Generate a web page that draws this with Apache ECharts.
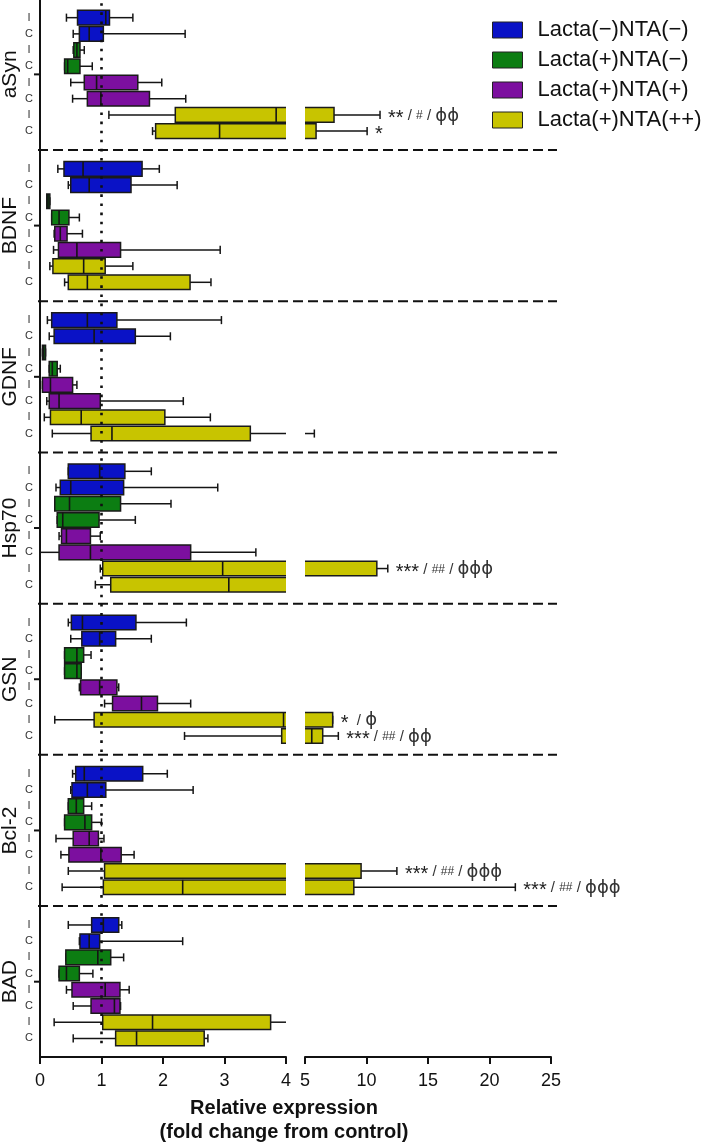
<!DOCTYPE html>
<html>
<head>
<meta charset="utf-8">
<script src="https://cdn.jsdelivr.net/npm/echarts@6/dist/echarts.min.js"></script>
<style>
html,body{margin:0;padding:0;background:#fff;}
#chart{width:709px;height:1143px;}
</style>
</head>
<body>
<div id="chart"></div>
<script>
// ---------- data ----------
const genes = ['aSyn', 'BDNF', 'GDNF', 'Hsp70', 'GSN', 'Bcl-2', 'BAD'];
const tissues = ['I', 'C'];
const groupNames = ['Lacta(\u2212)NTA(\u2212)', 'Lacta(+)NTA(\u2212)', 'Lacta(+)NTA(+)', 'Lacta(+)NTA(++)'];
const groupColors = ['#0a12c6', '#0c7d12', '#7c0f9f', '#c8c400'];

// each row: [min, Q1, median, Q3, max]; order: aSyn I, aSyn C, BDNF I, BDNF C, ... BAD I, BAD C
const blueBoxes = [
  [0.43, 0.61, 1.07, 1.13, 1.51], [0.54, 0.64, 0.80, 1.03, 2.36],
  [0.29, 0.39, 0.70, 1.66, 1.94], [0.46, 0.50, 0.80, 1.48, 2.23],
  [0.12, 0.19, 0.77, 1.25, 2.95], [0.15, 0.23, 0.88, 1.55, 2.12],
  [0.46, 0.46, 0.97, 1.38, 1.81], [0.26, 0.33, 0.50, 1.36, 2.89],
  [0.46, 0.51, 0.69, 1.56, 2.38], [0.50, 0.68, 0.97, 1.23, 1.81],
  [0.53, 0.58, 0.72, 1.67, 2.07], [0.50, 0.52, 0.77, 1.07, 2.49],
  [0.46, 0.84, 1.03, 1.28, 1.33], [0.64, 0.65, 0.80, 0.97, 2.32]
];
const greenBoxes = [
  [0.54, 0.55, 0.60, 0.65, 0.72], [0.40, 0.40, 0.45, 0.65, 0.85],
  [0.11, 0.11, 0.13, 0.16, 0.16], [0.19, 0.19, 0.31, 0.47, 0.64],
  [0.04, 0.04, 0.06, 0.09, 0.09], [0.15, 0.15, 0.20, 0.28, 0.33],
  [0.24, 0.24, 0.48, 1.31, 2.13], [0.28, 0.28, 0.37, 0.96, 1.55],
  [0.40, 0.40, 0.60, 0.71, 0.83], [0.40, 0.40, 0.60, 0.67, 0.67],
  [0.46, 0.46, 0.59, 0.71, 0.84], [0.40, 0.40, 0.73, 0.84, 1.00],
  [0.42, 0.42, 0.94, 1.15, 1.36], [0.31, 0.31, 0.43, 0.64, 0.86]
];
const purpleBoxes = [
  [0.50, 0.72, 0.92, 1.59, 1.98], [0.53, 0.77, 0.99, 1.78, 2.37],
  [0.23, 0.24, 0.33, 0.44, 0.69], [0.22, 0.30, 0.60, 1.31, 2.93],
  [0.04, 0.04, 0.17, 0.53, 0.60], [0.11, 0.15, 0.31, 0.98, 2.33],
  [0.31, 0.35, 0.43, 0.82, 0.98], [0.00, 0.31, 0.82, 2.45, 3.51],
  [0.64, 0.66, 0.97, 1.25, 1.28], [1.05, 1.18, 1.65, 1.91, 2.45],
  [0.26, 0.54, 0.80, 0.95, 1.04], [0.34, 0.47, 0.99, 1.32, 1.53],
  [0.43, 0.52, 1.06, 1.30, 1.45], [0.54, 0.83, 1.21, 1.30, 1.31]
];
const yellowBoxes = [
  [1.12, 2.20, 3.84, 7.36, 11.10], [1.83, 1.88, 2.92, 5.90, 10.05],
  [0.16, 0.21, 0.71, 1.06, 1.51], [0.40, 0.46, 0.77, 2.44, 2.78],
  [0.07, 0.17, 0.67, 2.03, 2.77], [0.20, 0.83, 1.17, 3.42, 5.76],
  [0.98, 1.02, 2.97, 10.84, 11.73], [0.90, 1.15, 3.07, 4.40, 4.40],
  [0.24, 0.88, 3.96, 7.25, 7.25], [2.35, 3.93, 5.55, 6.44, 7.71],
  [0.46, 1.05, 4.50, 9.56, 12.47], [0.36, 1.03, 2.32, 8.97, 22.10],
  [0.23, 1.02, 1.83, 3.75, 4.03], [0.54, 1.23, 1.57, 2.67, 2.73]
];
const allBoxes = [blueBoxes, greenBoxes, purpleBoxes, yellowBoxes];

// significance marks (all on Lacta(+)NTA(++) rows)
const annoGene = [0, 0, 3, 4, 4, 5, 5];
const annoTissue = [0, 1, 0, 0, 1, 0, 1];
const annoStars = ['**', '*', '***', '*', '***', '***', '***'];
const annoHash = ['#', '', '##', '', '##', '##', '##'];
const annoPhi = ['\u03d5\u03d5', '', '\u03d5\u03d5\u03d5', '\u03d5', '\u03d5\u03d5', '\u03d5\u03d5\u03d5', '\u03d5\u03d5\u03d5'];

const xTicksLow = [0, 1, 2, 3, 4];
const xTicksHigh = [5, 10, 15, 20, 25];
const refLine = 1;

// ---------- layout ----------
const FONT = "'Liberation Sans', Arial, Helvetica, sans-serif";
const GROUP_STEP = 9.332;          // rows per gene block (8 rows + gap)
const Y_MIN = -1.09, Y_MAX = 64.14;
const BOX_H = 0.9, CAP_H = 0.5;
const G1 = {left: 40, top: 0, width: 246, height: 1057};
const G2 = {left: 305, top: 0, width: 246, height: 1057};

function rowPos(g, k, t) { return g * GROUP_STEP + k * 2 + t; }

function boxData(k) {
  return allBoxes[k].map((b, i) => {
    const g = Math.floor(i / 2), t = i % 2;
    return [rowPos(g, k, t)].concat(b);
  });
}

function renderBox(params, api) {
  const y = api.value(0);
  const pMin = api.coord([api.value(1), y]);
  const pQ1 = api.coord([api.value(2), y]);
  const pMd = api.coord([api.value(3), y]);
  const pQ3 = api.coord([api.value(4), y]);
  const pMax = api.coord([api.value(5), y]);
  const h = api.size([0, BOX_H])[1];
  const cap = api.size([0, CAP_H])[1];
  const cy = pMin[1];
  const ls = {stroke: '#151515', lineWidth: 1.5};
  return {
    type: 'group',
    children: [
      {type: 'line', shape: {x1: pMin[0], y1: cy, x2: pQ1[0], y2: cy}, style: ls},
      {type: 'line', shape: {x1: pQ3[0], y1: cy, x2: pMax[0], y2: cy}, style: ls},
      {type: 'line', shape: {x1: pMin[0], y1: cy - cap / 2, x2: pMin[0], y2: cy + cap / 2}, style: ls},
      {type: 'line', shape: {x1: pMax[0], y1: cy - cap / 2, x2: pMax[0], y2: cy + cap / 2}, style: ls},
      {type: 'rect', shape: {x: pQ1[0], y: cy - h / 2, width: pQ3[0] - pQ1[0], height: h},
        style: {fill: api.visual('color'), stroke: '#1a1a1a', lineWidth: 1.5}},
      {type: 'line', shape: {x1: pMd[0], y1: cy - h / 2, x2: pMd[0], y2: cy + h / 2},
        style: {stroke: '#151515', lineWidth: 1.6}}
    ]
  };
}

const series = [];
for (let k = 0; k < 4; k++) {
  for (let gi = 0; gi < 2; gi++) {
    series.push({
      name: groupNames[k],
      type: 'custom',
      xAxisIndex: gi, yAxisIndex: gi,
      clip: true,
      itemStyle: {color: groupColors[k]},
      data: boxData(k),
      renderItem: renderBox,
      z: 2
    });
  }
}

// dotted reference line at x = 1
series.push({
  type: 'custom', xAxisIndex: 0, yAxisIndex: 0, clip: false, silent: true, z: 5,
  data: [[refLine]],
  renderItem: function (params, api) {
    const top = api.coord([api.value(0), Y_MIN + 0.2]);
    const bot = api.coord([api.value(0), Y_MAX - 0.5]);
    return {type: 'line', shape: {x1: top[0], y1: top[1], x2: bot[0], y2: bot[1]},
      style: {stroke: '#111', lineWidth: 2.6, lineDash: [2.6, 6.5]}};
  }
});

// dashed gene separators
const sepData = genes.slice(0, -1).map((_, g) => [g * GROUP_STEP + 7 + (GROUP_STEP - 7) / 2]);
series.push({
  type: 'custom', xAxisIndex: 0, yAxisIndex: 0, clip: false, silent: true, z: 4,
  data: sepData,
  renderItem: function (params, api) {
    const p = api.coord([0, api.value(0)]);
    return {type: 'line', shape: {x1: p[0] - 2, y1: p[1], x2: G2.left + G2.width + 6, y2: p[1]},
      style: {stroke: '#111', lineWidth: 2, lineDash: [10, 5]}};
  }
});

// gene labels + ticks on y axis
series.push({
  type: 'custom', xAxisIndex: 0, yAxisIndex: 0, clip: false, silent: true, z: 4,
  data: genes.map((name, g) => [g * GROUP_STEP + 3.5, g]),
  renderItem: function (params, api) {
    const p = api.coord([0, api.value(0)]);
    return {type: 'group', children: [
      {type: 'line', shape: {x1: p[0] - 6, y1: p[1], x2: p[0], y2: p[1]}, style: {stroke: '#111', lineWidth: 2}},
      {type: 'text', x: p[0] - 30, y: p[1], rotation: Math.PI / 2,
        style: {text: genes[api.value(1)], fill: '#111', font: '21px ' + FONT, align: 'center', verticalAlign: 'middle'}}
    ]};
  }
});

// I / C row labels
const rowLabelData = [];
genes.forEach((_, g) => { for (let k = 0; k < 4; k++) for (let t = 0; t < 2; t++) rowLabelData.push([rowPos(g, k, t), t]); });
series.push({
  type: 'custom', xAxisIndex: 0, yAxisIndex: 0, clip: false, silent: true, z: 4,
  data: rowLabelData,
  renderItem: function (params, api) {
    const p = api.coord([0, api.value(0)]);
    return {type: 'text', x: p[0] - 11, y: p[1],
      style: {text: tissues[api.value(1)], fill: '#333', font: '11px ' + FONT, align: 'center', verticalAlign: 'middle'}};
  }
});

// significance annotations (placed right of whisker max, on the broken axis part)
const annoData = annoGene.map((g, i) => {
  const b = yellowBoxes[g * 2 + annoTissue[i]];
  return [rowPos(g, 3, annoTissue[i]), Math.max(b[4], b[3]), i];
});
function annoText(i) {
  let s = '{s|' + annoStars[i] + '}';
  if (annoHash[i]) s += '{m| / }{h|' + annoHash[i] + '}{m| / }';
  else if (annoPhi[i]) s += '{m|  / }';
  if (annoPhi[i]) s += '{p|' + annoPhi[i] + '}';
  return s;
}
series.push({
  type: 'custom', xAxisIndex: 1, yAxisIndex: 1, clip: false, silent: true, z: 4,
  data: annoData,
  renderItem: function (params, api) {
    const p = api.coord([api.value(1), api.value(0)]);
    return {type: 'text', x: p[0] + 8, y: p[1] + 1,
      style: {text: annoText(api.value(2)), align: 'left', verticalAlign: 'middle', fill: '#222',
        rich: {
          s: {fontSize: 20, fontFamily: FONT, fill: '#222', padding: [5, 0, 0, 0]},
          m: {fontSize: 15, fontFamily: FONT, fill: '#333'},
          h: {fontSize: 12, fontFamily: FONT, fill: '#333'},
          p: {fontSize: 18, fontFamily: "'DejaVu Sans', " + FONT, fill: '#333'}
        }}};
  }
});

function xAxisCfg(gridIndex, ticks) {
  return {
    gridIndex: gridIndex, type: 'value',
    min: ticks[0], max: ticks[ticks.length - 1], interval: ticks[1] - ticks[0],
    axisLine: {show: true, onZero: false, lineStyle: {color: '#111', width: 2}},
    axisTick: {show: true, length: 7, lineStyle: {color: '#111', width: 2}},
    axisLabel: {fontSize: 18, color: '#111', margin: 15, fontFamily: FONT},
    splitLine: {show: false}
  };
}
function yAxisCfg(gridIndex, showLine) {
  return {
    gridIndex: gridIndex, type: 'value', inverse: true, min: Y_MIN, max: Y_MAX,
    axisLine: {show: showLine, onZero: false, lineStyle: {color: '#111', width: 2}},
    axisTick: {show: false}, axisLabel: {show: false}, splitLine: {show: false}
  };
}

const chart = echarts.init(document.getElementById('chart'), null, {renderer: 'canvas'});
chart.setOption({
  animation: false,
  backgroundColor: '#fff',
  textStyle: {fontFamily: FONT},
  grid: [
    Object.assign({outerBoundsMode: 'none', containLabel: false}, G1),
    Object.assign({outerBoundsMode: 'none', containLabel: false}, G2)
  ],
  xAxis: [xAxisCfg(0, xTicksLow), xAxisCfg(1, xTicksHigh)],
  yAxis: [yAxisCfg(0, true), yAxisCfg(1, false)],
  legend: {
    data: groupNames, orient: 'vertical', left: 492, top: 19, padding: 0,
    itemWidth: 30, itemHeight: 16, itemGap: 8, icon: 'rect',
    itemStyle: {borderColor: '#222', borderWidth: 1},
    textStyle: {fontSize: 22, color: '#111', fontFamily: FONT, padding: [0, 0, 0, 10], lineHeight: 22}
  },
  graphic: [{
    type: 'text', x: 284, y: 1096,
    style: {text: 'Relative expression\n(fold change from control)', align: 'center',
      font: 'bold 20px ' + FONT, fill: '#111', lineHeight: 24}
  }],
  series: series
});
</script>
</body>
</html>
